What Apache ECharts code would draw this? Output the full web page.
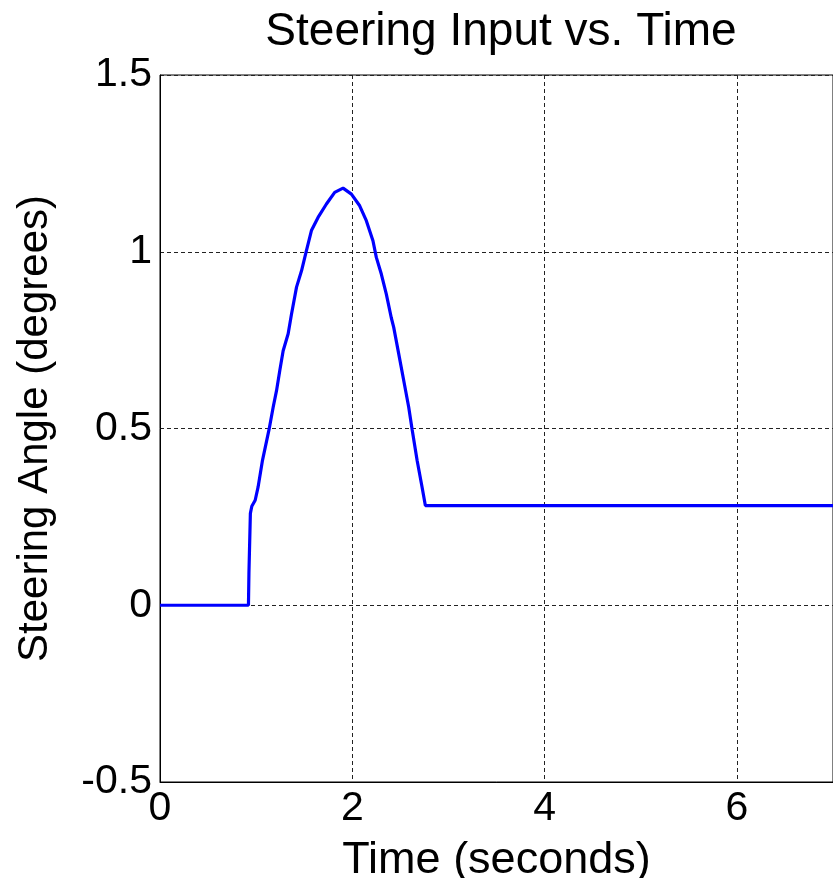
<!DOCTYPE html>
<html>
<head>
    <meta charset="utf-8">
    <title>Steering Input vs. Time</title>
    <script src="https://cdn.jsdelivr.net/npm/echarts@6/dist/echarts.min.js"></script>
    <style>
        html, body { margin: 0; padding: 0; background: #fff; }
        #chart { width: 833px; height: 878px; }
    </style>
</head>
<body>
<div id="chart"></div>
<script type="text/javascript">
    // values
    var timeSec = [0, 0.92, 0.925, 0.94, 0.955, 0.99, 1.02, 1.066, 1.135, 1.177, 1.212, 1.246,
        1.281, 1.333, 1.368, 1.42, 1.472, 1.523, 1.575, 1.644, 1.731, 1.817, 1.904, 1.991,
        2.077, 2.146, 2.215, 2.25, 2.302, 2.354, 2.405, 2.431, 2.483, 2.535, 2.587, 2.622,
        2.674, 2.726, 2.76, 7];
    var steerDeg = [0, 0, 0.09, 0.26, 0.28, 0.297, 0.334, 0.41, 0.498, 0.56, 0.607, 0.664,
        0.72, 0.768, 0.824, 0.9, 0.946, 1.003, 1.06, 1.097, 1.135, 1.168, 1.18, 1.163,
        1.13, 1.088, 1.031, 0.984, 0.937, 0.88, 0.814, 0.786, 0.711, 0.636, 0.56, 0.498,
        0.41, 0.334, 0.282, 0.282];
    var xTicks = [0, 2, 4, 6];
    var yTicks = [-0.5, 0, 0.5, 1, 1.5];

    var pts = timeSec.map(function (t, i) { return [t, steerDeg[i]]; });
    var font = 'Liberation Sans, Arial, sans-serif';
    var grid = { type: [4, 3], color: '#222', width: 1 };

    var myChart = echarts.init(document.getElementById('chart'));
    myChart.setOption({
        animation: false,
        backgroundColor: '#fff',
        title: {
            text: 'Steering Input vs. Time',
            left: 496, top: 4, textAlign: 'center',
            textStyle: { fontFamily: font, fontSize: 46, fontWeight: 'normal', color: '#000' }
        },
        grid: {
            left: 160, top: 75, right: 0, bottom: 96, outerBoundsMode: 'none', containLabel: false,
            show: true, borderColor: '#000', borderWidth: 1
        },
        xAxis: {
            type: 'value', min: 0, max: 7, interval: 2,
            name: 'Time (seconds)', nameLocation: 'middle', nameGap: 56,
            nameTextStyle: { fontFamily: font, fontSize: 45, color: '#000' },
            axisLine: { onZero: false, lineStyle: { color: '#000' } },
            axisTick: { show: false },
            axisLabel: {
                fontFamily: font, fontSize: 41, color: '#000', margin: 6, showMaxLabel: false,
                formatter: function (v) { return xTicks.indexOf(v) >= 0 ? String(v) : ''; }
            },
            splitLine: { lineStyle: grid }
        },
        yAxis: {
            type: 'value', min: -0.5, max: 1.5, interval: 0.5,
            name: 'Steering Angle (degrees)', nameLocation: 'middle', nameGap: 104,
            nameTextStyle: { fontFamily: font, fontSize: 42, color: '#000' },
            axisLine: { show: true, onZero: false, lineStyle: { color: '#000' } },
            axisTick: { show: false },
            axisLabel: {
                fontFamily: font, fontSize: 41, color: '#000', margin: 8,
                formatter: function (v) { return yTicks.indexOf(v) >= 0 ? String(v) : ''; }
            },
            splitLine: { lineStyle: grid }
        },
        series: [{
            type: 'line',
            data: pts,
            showSymbol: false,
            lineStyle: { color: '#0000ff', width: 3.2 }
        }]
    });
</script>
</body>
</html>
